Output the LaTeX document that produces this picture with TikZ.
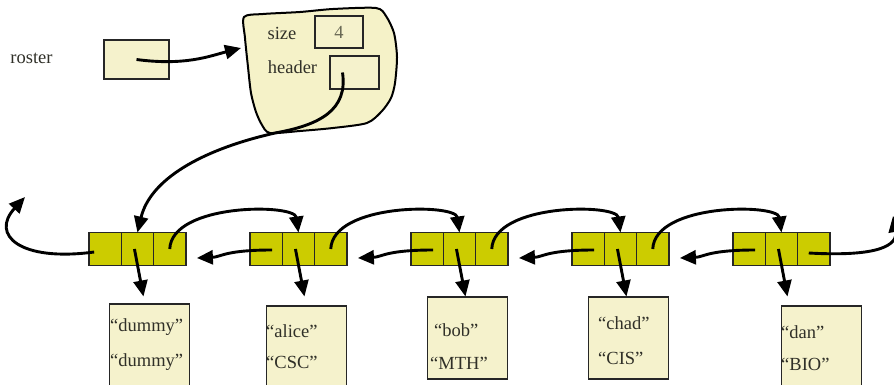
\documentclass[tikz,border=0pt]{standalone}
\usepackage{fontspec}
\setmainfont{Liberation Serif}
\usepackage{tikz}
\usetikzlibrary{%
	arrows.meta,%
	positioning,% wg. " of "
	calc
}
\definecolor{cellfill}{RGB}{204,204,0}
\definecolor{boxfill}{RGB}{245,242,204}
\definecolor{blobfill}{RGB}{245,242,200}
\definecolor{inktext}{RGB}{48,48,40}
\definecolor{faintink}{RGB}{105,105,85}
\tikzstyle{listcell}=[rectangle, draw=black!85, line width=1.5pt, fill=cellfill, minimum width=32.3pt, minimum height=33pt, inner sep=0pt, outer sep=0pt]
\tikzstyle{varbox}=[rectangle, draw=black!85, line width=1.8pt, fill=boxfill, inner sep=0pt, outer sep=0pt]
\tikzstyle{databox}=[varbox, minimum width=80pt]
\tikzstyle{lbl}=[font=\fontsize{18.5}{20}\selectfont, text=inktext, inner sep=0pt]
\tikzstyle{ptr}=[draw, line width=2.9pt, -{Triangle[length=16pt,width=14pt]}]
\tikzstyle{blob}=[draw, line width=2pt, fill=blobfill]

\begin{document}
\begin{tikzpicture}[x=1pt,y=-1pt]
		\clip (0,0) rectangle (894,385);
		
		% First we draw the roster variable and the list object
		\node[lbl] (rosterlbl) at (31.5,58) {roster};
		\node[varbox, minimum width=65pt, minimum height=39pt] (roster) at (136.5,59.5) {};
		\draw[blob] plot[smooth cycle, tension=0.45] coordinates {
			(244,17) (263,14) (300,12) (333,9) (376,8) (386,16) (394,33) (397,57)
			(395,83) (391,98) (382,111) (367,123) (333,128) (300,131) (270,133)
			(262,125) (256,112) (251,93) (248,67) (245,38)};
		\coordinate (blobW) at (241,48);
		\node[lbl] (sizelbl) at (282,33) {size};
		\node[varbox, minimum width=48pt, minimum height=32pt] (sizebox) at (339,32) {\fontsize{18.5}{20}\selectfont\color{faintink}4};
		\node[lbl] (headerlbl) at (292.5,67) {header};
		\node[varbox, minimum width=49pt, minimum height=33pt] (headerbox) at (354.5,72.5) {};
		
		% Then we draw the list nodes
		\foreach \i in {1,...,5} {
			\pgfmathsetmacro\xl{89+161*(\i-1)+16.15}
			\node[listcell] (p\i) at (\xl,249) {};
			\node[listcell, right=0pt of p\i] (d\i) {};
			\node[listcell, right=0pt of d\i] (n\i) {};
		}
		
		% Data boxes and their texts
		\foreach \name/\pos/\h in {{box1/(149.5,354)/100}, {box2/(306.5,356)/100},
			{box3/(467.5,338)/82}, {box4/(628.5,338)/82}, {box5/(821.5,356)/100}}
		\node[databox, minimum height=\h pt] (\name) at \pos {};
		
		\foreach \name/\pos/\txt in {{t1a/(110,327)/dummy}, {t1b/(110,362)/dummy},
			{t2a/(266,331)/alice}, {t2b/(266,362)/CSC},
			{t3a/(434,330)/bob}, {t3b/(430,363)/MTH},
			{t4a/(598,323)/chad}, {t4b/(598,358)/CIS},
			{t5a/(781,332)/dan}, {t5b/(781,364)/BIO}}
		\node[lbl, anchor=west] (\name) at \pos {“\txt”};
		
		% Pointers of the roster and the header
		\path[ptr] (roster.center) .. controls (185,66) and (210,56) .. (blobW);
		\path[ptr] ([xshift=-12pt]headerbox.center) .. controls (348,110) and (320,125) .. (275,133)
			.. controls (200,150) and (150,180) .. (d1.north);
		
		% Connect the list nodes: next pointers
		\foreach \source/\dest in {1/2, 2/3, 3/4, 4/5}
		\path[ptr] (n\source.center) .. controls ($(n\source.center)+(2,-46)$) and ($(d\dest.north)+(-4,-29)$) .. (d\dest.north);
		
		% Connect the list nodes: prev pointers
		\foreach \source/\dest in {2/1, 3/2, 4/3, 5/4}
		\path[ptr] ($(p\source.center)+(6,1)$) .. controls ($(p\source.west)+(-25,1)$) and ($(n\dest.east)+(35,8)$) .. ($(n\dest.east)+(11,9)$);
		
		% Data pointers
		\foreach \i in {1,...,5}
		\path[ptr] ($(d\i.center)+(-3,0)$) -- ($(d\i.south)+(6,31)$);
		
		% Both ends of the list
		\coordinate (endL) at (25,197);
		\coordinate (endR) at (893,216);
		\path[ptr] ($(p1.center)+(-11,3)$) .. controls (20,262) and (-10,235) .. (endL);
		\path[ptr] ($(n5.center)+(-5,4)$) .. controls (880,257) and (898,245) .. (endR);
		
\end{tikzpicture}
\end{document}
